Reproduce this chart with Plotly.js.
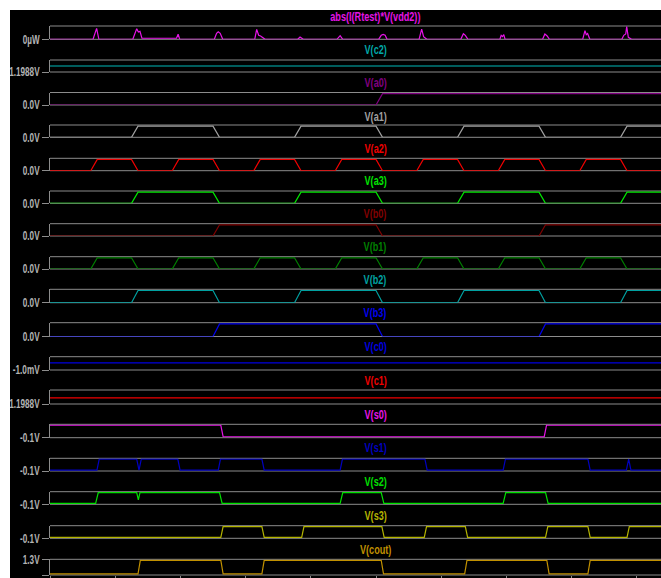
<!DOCTYPE html>
<html>
<head>
<meta charset="utf-8">
<script src="https://cdn.plot.ly/plotly-3.0.1.min.js"></script>
<style>html,body{margin:0;padding:0;background:#fff;}#plot{width:661px;height:578px;}</style>
</head>
<body>
<div id="plot"></div>
<script>
// ---------------- DATA ----------------
// time axis: one x tick per unit
const tEnd = 9.4;

// power trace abs(I(Rtest)*V(vdd2)) (µW, arbitrary scale)
const pT = [0, 0.66, 0.715, 0.75, 1.27, 1.33, 1.355, 1.38, 1.41, 1.94, 1.965, 1.99, 2.52, 2.555, 2.58, 2.61, 2.65, 3.14, 3.17, 3.2, 3.23, 3.3, 3.8, 3.835, 3.885, 4.40, 4.45, 4.49, 5.04, 5.08, 5.11, 5.14, 5.17, 5.66, 5.70, 5.73, 5.78, 6.30, 6.34, 6.37, 6.41, 6.90, 6.92, 6.94, 6.96, 6.98, 7.555, 7.59, 7.625, 7.66, 8.17, 8.205, 8.225, 8.245, 8.28, 8.77, 8.80, 8.83, 8.845, 8.87, 8.92, 9.4];
const pV = [0, 0, 82, 0, 0, 80, 55, 60, 8, 8, 38, 0, 0, 45, 57, 45, 0, 0, 75, 30, 25, 0, 0, 17, 0, 0, 27, 0, 0, 30, 37, 30, 0, 0, 77, 20, 0, 0, 42, 30, 0, 0, 30, 20, 35, 0, 0, 40, 25, 0, 0, 65, 35, 43, 0, 0, 30, 40, 95, 15, 0, 0];

// constant nodes
const c2Val = 1.1994;   // V
const c0Val = 0.06;     // mV
const c1Val = 1.19932;  // V

// logic levels
const vLo = 0.0, vHi = 1.2;

// input edges (start low)
const a0Edges = [5.0];
const a1Edges = [1.25, 2.5, 3.75, 5.0, 6.25, 7.5, 8.75];
const a2Edges = [0.625, 1.25, 1.875, 2.5, 3.125, 3.75, 4.375, 5.0, 5.625, 6.25, 6.875, 7.5, 8.125, 8.75];
const a3Edges = [1.25, 2.5, 3.75, 5.0, 6.25, 7.5, 8.75];
const b0Edges = [2.5, 5.0, 7.5];
const b1Edges = [0.625, 1.25, 1.875, 2.5, 3.125, 3.75, 4.375, 5.0, 5.625, 6.25, 6.875, 7.5, 8.125, 8.75];
const b2Edges = [1.25, 2.5, 3.75, 5.0, 6.25, 7.5, 8.75];
const b3Edges = [2.5, 5.0, 7.5];

// output edges
const s0Start = 1; const s0Edges = [2.62, 7.58];
const s1Start = 0; const s1Edges = [0.72, 1.33, 1.365, 1.96, 2.58, 3.25, 4.45, 5.75, 6.95, 8.25, 8.84, 8.875];
const s2T = [0, 0.70, 0.74, 1.33, 1.355, 1.38, 2.60, 2.64, 4.45, 4.49, 5.08, 5.12, 6.95, 6.99, 7.60, 7.64, 9.4];
const s2V = [0, 0, 1.2, 1.2, 0.4, 1.2, 1.2, 0, 0, 1.2, 1.2, 0, 0, 1.2, 1.2, 0, 0];
const s3Start = 0; const s3Edges = [2.62, 3.25, 3.86, 5.09, 5.74, 6.37, 7.6, 8.25, 8.85];
const coutStart = 0; const coutEdges = [1.35, 2.62, 3.25, 5.08, 6.36, 7.62, 8.25];

// ---------------- helpers ----------------
function wave(startHigh, edges, tr) {
  const x = [0], y = [];
  let s = startHigh ? 1 : 0;
  y.push(s ? vHi : vLo);
  edges.forEach(t => {
    x.push(t); y.push(s ? vHi : vLo);
    s = 1 - s;
    x.push(t + tr); y.push(s ? vHi : vLo);
  });
  x.push(tEnd); y.push(s ? vHi : vLo);
  return {x, y};
}
const TR_IN = 0.1, TR_OUT = 0.035;

// ---------------- panel styling ----------------
const PH = 575; // plot area height in px (margin t=0)
const panels = [
  {name: 'abs(I(Rtest)*V(vdd2))', color: '#e614e6', top: 26, bot: 39.3, ty: 17, range: [0, 100], tv: [0], tt: ['0µW'], data: {x: pT, y: pV}},
  {name: 'V(c2)', color: '#00a8a8', lc: '#00b8b8', top: 60, bot: 72, ty: 50, range: [1.1988, 1.2000], tv: [1.1988], tt: ['1.1988V'], data: {x: [0, tEnd], y: [c2Val, c2Val]}},
  {name: 'V(a0)', color: '#800080', top: 92.5, bot: 105, ty: 83, range: [0, 1.32], tv: [0], tt: ['0.0V'], data: wave(0, a0Edges, TR_IN)},
  {name: 'V(a1)', color: '#a0a0a0', top: 125, bot: 137.3, ty: 117, range: [0, 1.32], tv: [0], tt: ['0.0V'], data: wave(0, a1Edges, TR_IN)},
  {name: 'V(a2)', color: '#f00000', top: 158.3, bot: 170.7, ty: 149, range: [0, 1.32], tv: [0], tt: ['0.0V'], data: wave(0, a2Edges, TR_IN)},
  {name: 'V(a3)', color: '#00e600', top: 191, bot: 203.3, ty: 181, range: [0, 1.32], tv: [0], tt: ['0.0V'], data: wave(0, a3Edges, TR_IN)},
  {name: 'V(b0)', color: '#800000', top: 223.7, bot: 236, ty: 214, range: [0, 1.32], tv: [0], tt: ['0.0V'], data: wave(0, b0Edges, TR_IN)},
  {name: 'V(b1)', color: '#008000', top: 256.7, bot: 269, ty: 247.5, range: [0, 1.32], tv: [0], tt: ['0.0V'], data: wave(0, b1Edges, TR_IN)},
  {name: 'V(b2)', color: '#00a0a0', top: 289.3, bot: 302.7, ty: 280, range: [0, 1.32], tv: [0], tt: ['0.0V'], data: wave(0, b2Edges, TR_IN)},
  {name: 'V(b3)', color: '#0000f0', top: 322.7, bot: 336.5, ty: 313, range: [0, 1.32], tv: [0], tt: ['0.0V'], data: wave(0, b3Edges, TR_IN)},
  {name: 'V(c0)', color: '#0000e0', top: 356.7, bot: 370, ty: 347, range: [-1.0, 1.0], tv: [-1.0], tt: ['-1.0mV'], data: {x: [0, tEnd], y: [c0Val, c0Val]}},
  {name: 'V(c1)', color: '#f00000', top: 390, bot: 404, ty: 380.5, range: [1.1988, 1.2000], tv: [1.1988], tt: ['1.1988V'], data: {x: [0, tEnd], y: [c1Val, c1Val]}},
  {name: 'V(s0)', color: '#e614e6', top: 424.3, bot: 437.7, ty: 415, range: [-0.1, 1.3], tv: [-0.1], tt: ['-0.1V'], data: wave(s0Start, s0Edges, TR_OUT)},
  {name: 'V(s1)', color: '#0000c0', top: 458.3, bot: 471, ty: 448, range: [-0.1, 1.3], tv: [-0.1], tt: ['-0.1V'], data: wave(s1Start, s1Edges, TR_OUT)},
  {name: 'V(s2)', color: '#00e000', top: 491.7, bot: 504.3, ty: 482, range: [-0.1, 1.3], tv: [-0.1], tt: ['-0.1V'], data: {x: s2T, y: s2V}},
  {name: 'V(s3)', color: '#b4b400', top: 525.7, bot: 538.3, ty: 516, range: [-0.1, 1.3], tv: [-0.1], tt: ['-0.1V'], data: wave(s3Start, s3Edges, TR_OUT)},
  {name: 'V(cout)', color: '#c09000', top: 559.3, bot: 575, ty: 549.5, range: [-0.1, 1.3], tv: [-0.1, 1.3], tt: ['-0.1V', '1.3V'], data: wave(coutStart, coutEdges, TR_OUT)}
];

const FONT = "Liberation Sans, Arial, sans-serif";
const GRID = '#8c8c8c';

const traces = [], shapes = [], annotations = [];
const layout = {
  width: 661, height: 578,
  margin: {l: 50, r: 0, t: 0, b: 3, pad: 0},
  paper_bgcolor: '#000000',
  plot_bgcolor: 'rgba(0,0,0,0)',
  showlegend: false,
  xaxis: {range: [0, 9.371], anchor: 'y17', showgrid: false, zeroline: false, showline: false,
          ticks: 'outside', ticklen: 4, tickcolor: GRID, tick0: 0, dtick: 1, showticklabels: false, fixedrange: true}
};

panels.forEach((p, i) => {
  const n = i + 1;
  const yk = n === 1 ? 'yaxis' : 'yaxis' + n;
  const yr = n === 1 ? 'y' : 'y' + n;
  layout[yk] = {
    domain: [(PH - p.bot) / PH, (PH - p.top) / PH],
    range: p.range, anchor: 'x',
    showgrid: false, zeroline: false, showline: true, linecolor: GRID, linewidth: 1,
    ticks: 'outside', ticklen: 7, tickcolor: GRID, tickwidth: 1,
    tickmode: 'array', tickvals: p.tv, ticktext: p.tt,
    tickfont: {family: FONT, size: 12, color: '#b4b4b4', weight: 'bold'},
    fixedrange: true
  };
  traces.push({x: p.data.x, y: p.data.y, xaxis: 'x', yaxis: yr, type: 'scatter', mode: 'lines',
               line: {color: p.lc || p.color, width: 1.2, shape: 'linear'}, hoverinfo: 'skip'});
  [0, 1].forEach(v => shapes.push({type: 'line', xref: 'paper', x0: 0, x1: 1, yref: yr + ' domain', y0: v, y1: v,
                                    line: {color: GRID, width: 1}, layer: 'below'}));
  annotations.push({text: p.name, xref: 'paper', yref: 'paper', x: (375 - 50) / 611, y: (PH - p.ty) / PH,
                    xanchor: 'center', yanchor: 'middle', showarrow: false,
                    font: {family: FONT, size: 12, color: p.color, weight: 'bold'}});
});

// white screenshot border (left and top)
shapes.push({type: 'rect', xref: 'paper', yref: 'paper', x0: -0.2, x1: (10 - 50) / 611, y0: -0.05, y1: 1.05,
             fillcolor: '#ffffff', line: {width: 0}, layer: 'above'});
shapes.push({type: 'rect', xref: 'paper', yref: 'paper', x0: -0.2, x1: 1.2, y0: (PH - 10) / PH, y1: 1.05,
             fillcolor: '#ffffff', line: {width: 0}, layer: 'above'});

layout.shapes = shapes;
layout.annotations = annotations;

// condensed look of the original waveform viewer font
function squeeze(el, f) {
  const L = el.getComputedTextLength();
  if (L > 0) {
    el.setAttribute('textLength', (L * f).toFixed(1));
    el.setAttribute('lengthAdjust', 'spacingAndGlyphs');
  }
}
Plotly.newPlot('plot', traces, layout, {displayModeBar: false, staticPlot: true}).then(gd => {
  gd.querySelectorAll('text.annotation-text').forEach(t => squeeze(t, 0.76));
  gd.querySelectorAll('.yaxislayer-above text').forEach(t => squeeze(t, 0.68));
});
</script>
</body>
</html>
